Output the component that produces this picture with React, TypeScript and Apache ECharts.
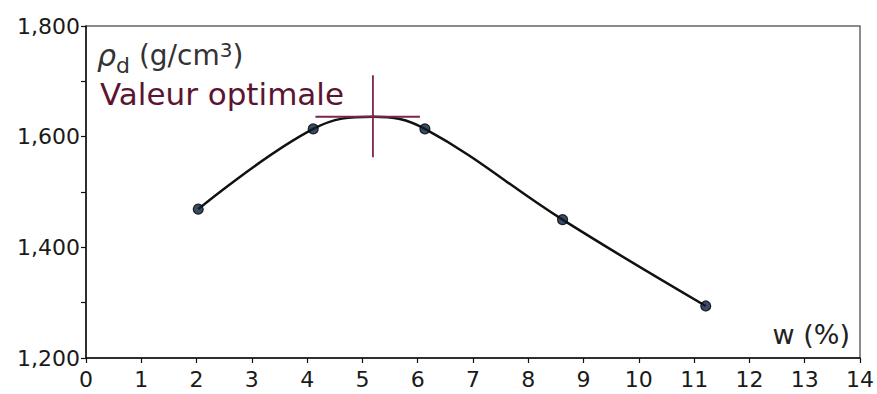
import React, { useEffect, useRef } from "react";
import * as echarts from "echarts";

// Measured points: water content w (%) and dry density rho_d (g/cm3, x1000)
const wValues = [2.03, 4.11, 6.13, 8.62, 11.21];
const rhoValues = [1469, 1614, 1614, 1450, 1294];

// Optimum (Valeur optimale)
const optimumW = 5.19;
const optimumRho = 1636;
const crossHorizontalW = [4.15, 6.04];
const crossVerticalRho = [1711, 1563];

// Axis settings
const xTicks = [0, 14, 1];
const yTicks = [1200, 1800, 200];

const FONT = "DejaVu Sans";

export default function App() {
  const ref = useRef<HTMLDivElement>(null);

  useEffect(() => {
    if (!ref.current) return;
    const chart = echarts.init(ref.current, undefined, { renderer: "svg" });

    const measured = wValues.map((w, i) => [w, rhoValues[i]]);
    const curve = [...measured, [optimumW, optimumRho]].sort((a, b) => a[0] - b[0]);

    chart.setOption({
      animation: false,
      backgroundColor: "#ffffff",
      grid: {
        left: 86,
        right: 17,
        top: 26,
        bottom: 36,
        show: true,
        borderColor: "#666666",
        borderWidth: 1.5,
        backgroundColor: "transparent",
      },
      xAxis: {
        type: "value",
        min: xTicks[0],
        max: xTicks[1],
        interval: xTicks[2],
        axisLine: { show: true, lineStyle: { color: "#111", width: 1.5 } },
        axisTick: { show: true, length: 5, lineStyle: { color: "#111", width: 1.2 } },
        axisLabel: { color: "#1a1a1a", fontFamily: FONT, fontSize: 22, margin: 10 },
        splitLine: { show: false },
      },
      yAxis: {
        type: "value",
        min: yTicks[0],
        max: yTicks[1],
        interval: yTicks[2],
        axisLine: { show: true, lineStyle: { color: "#111", width: 1.5 } },
        axisTick: { show: true, length: 5, lineStyle: { color: "#111", width: 1.2 } },
        minorTick: { show: true, splitNumber: 2, length: 5, lineStyle: { color: "#111", width: 1.2 } },
        axisLabel: {
          color: "#1a1a1a",
          fontFamily: FONT,
          fontSize: 22,
          margin: 6,
          formatter: (v: number) => v.toLocaleString("en-US"),
        },
        splitLine: { show: false },
      },
      series: [
        {
          type: "line",
          data: curve,
          smooth: 0.4,
          showSymbol: false,
          symbol: "none",
          lineStyle: { color: "#111111", width: 2.5 },
          z: 3,
        },
        {
          type: "scatter",
          data: measured,
          symbol: "circle",
          symbolSize: 10,
          itemStyle: { color: "#0a1e3a", borderColor: "#000", borderWidth: 1.2 },
          z: 5,
        },
        {
          type: "line",
          data: crossHorizontalW.map((w) => [w, optimumRho]),
          symbol: "none",
          lineStyle: { color: "#7a2450", width: 1.8 },
          z: 4,
        },
        {
          type: "line",
          data: crossVerticalRho.map((r) => [optimumW, r]),
          symbol: "none",
          lineStyle: { color: "#7a2450", width: 1.8 },
          z: 4,
        },
      ],
      graphic: [
        {
          type: "text",
          left: 97,
          top: 40,
          style: {
            text: "{rho|ρ}{sub|d} (g/cm{sup|3})",
            fontFamily: FONT,
            fontSize: 28,
            fill: "#333333",
            rich: {
              rho: { fontFamily: FONT, fontSize: 30, fontStyle: "italic", fill: "#333", verticalAlign: "bottom" },
              sub: { fontFamily: FONT, fontSize: 22, fill: "#333", verticalAlign: "bottom", padding: [0, 0, -6, 0] },
              sup: { fontFamily: FONT, fontSize: 20, fill: "#333", verticalAlign: "top", padding: [0, 0, 10, 0] },
            },
          },
        },
        {
          type: "text",
          left: 100,
          top: 78,
          style: {
            text: "Valeur optimale",
            fontFamily: FONT,
            fontSize: 31,
            fill: "#5b1532",
          },
        },
        {
          type: "text",
          right: 27,
          top: 321,
          style: {
            text: "w (%)",
            fontFamily: FONT,
            fontSize: 27,
            fill: "#222222",
          },
        },
      ],
    });

    return () => chart.dispose();
  }, []);

  return (
    <div
      ref={ref}
      style={{ position: "fixed", left: 0, top: 0, width: 877, height: 394, background: "#fff" }}
    />
  );
}
